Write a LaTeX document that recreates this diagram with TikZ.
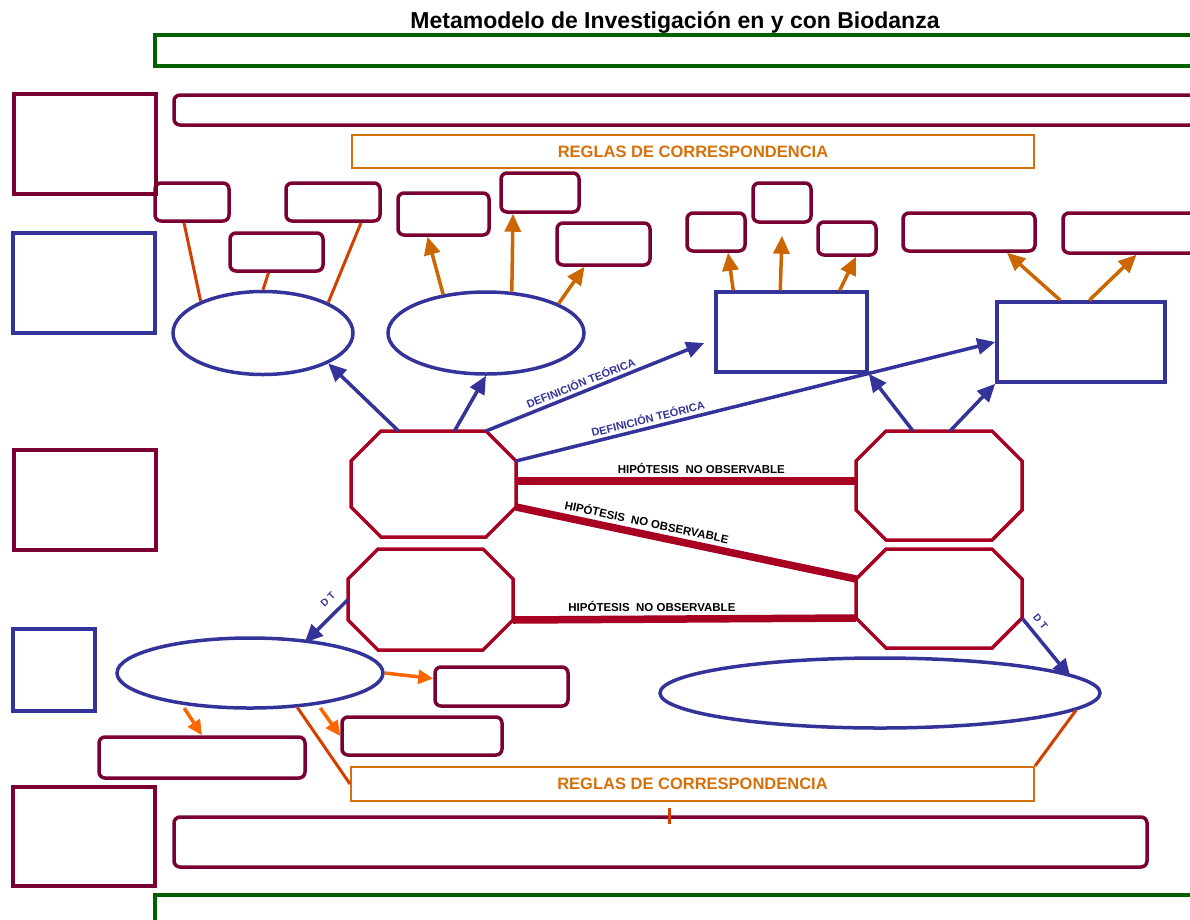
\documentclass[tikz,border=0pt]{standalone}
\usepackage{fontspec}
\setmainfont{Liberation Sans}
\usetikzlibrary{arrows.meta,shapes.geometric}

\definecolor{boxmaroon}{RGB}{122,0,51}
\definecolor{octred}{RGB}{168,0,34}
\definecolor{dtblue}{RGB}{51,51,153}
\definecolor{rulegold}{RGB}{214,112,10}
\definecolor{arrgold}{RGB}{204,102,0}
\definecolor{linkred}{RGB}{210,64,0}
\definecolor{brightorange}{RGB}{255,102,0}
\definecolor{framegreen}{RGB}{0,96,0}

% octagon: name, x, y, width, height
\newcommand{\octbox}[5]{%
  \node[octnode, minimum width=#4pt, minimum height=#5pt] (#1) at (#2,#3) {};
  \draw[octline] ([xshift=30pt]#1.north west) -- ([xshift=-30pt]#1.north east)
    -- ([yshift=-30pt]#1.north east) -- ([yshift=30pt]#1.south east)
    -- ([xshift=-30pt]#1.south east) -- ([xshift=30pt]#1.south west)
    -- ([yshift=30pt]#1.south west) -- ([yshift=-30pt]#1.north west) -- cycle;}

\begin{document}
\begin{tikzpicture}[x=1pt, y=-1pt, >={Triangle[length=18pt,width=16pt]},
  frame/.style={draw=boxmaroon, line width=3.5pt, inner sep=0pt},
  rbox/.style={draw=boxmaroon, line width=3.5pt, rounded corners=6pt, inner sep=0pt},
  bluebox/.style={draw=dtblue, line width=3.5pt, inner sep=0pt},
  blueell/.style={draw=dtblue, line width=3.5pt, ellipse, inner sep=0pt},
  greenbar/.style={draw=framegreen, line width=3.5pt, inner sep=0pt},
  rules/.style={draw=rulegold, line width=2pt, text=rulegold, inner sep=0pt,
    font=\bfseries\fontsize{16.5}{16.5}\selectfont},
  octnode/.style={draw=none, inner sep=0pt, outer sep=0pt},
  octline/.style={draw=octred, line width=3.5pt, line join=miter},
  bluearr/.style={->, draw=dtblue, fill=dtblue, line width=3.5pt},
  goldarr/.style={->, draw=arrgold, fill=arrgold, line width=3.5pt},
  brightarr/.style={-{Triangle[length=15pt,width=14pt]}, draw=brightorange, fill=brightorange, line width=3.5pt},
  linkline/.style={draw=linkred, line width=3pt},
  hypline/.style={draw=octred, line width=7.5pt},
  deflabel/.style={sloped, above=2pt, text=dtblue, inner sep=1pt,
    font=\bfseries\fontsize{11}{11}\selectfont},
  hyplabel/.style={above=3pt, inner sep=1pt, font=\bfseries\fontsize{11.5}{11.5}\selectfont},
  dtlabel/.style={sloped, text=dtblue, inner sep=1pt,
    font=\bfseries\fontsize{10}{10}\selectfont}]

  \useasboundingbox (0,0) rectangle (1190,919);

  % title and frames
  \node[font=\bfseries\fontsize{23}{23}\selectfont] (title) at (675,22) {Metamodelo de Investigación en y con Biodanza};
  \node[greenbar, minimum width=1055pt, minimum height=31pt] (topbar) at (682.5,50.5) {};
  \node[greenbar, minimum width=1055pt, minimum height=40pt] (botbar) at (682.5,915) {};
  \node[rbox, minimum width=1036pt, minimum height=30pt] (band1) at (692,110) {};
  \node[rbox, minimum width=973pt, minimum height=50pt] (band2) at (660.5,842) {};
  \node[rules, minimum width=682pt, minimum height=33pt] (reglas1) at (693,151.5) {REGLAS DE CORRESPONDENCIA};
  \node[rules, minimum width=683pt, minimum height=34pt] (reglas2) at (692.5,784) {REGLAS DE CORRESPONDENCIA};

  % left column
  \node[frame, minimum width=142pt, minimum height=100pt] (l1) at (85,144) {};
  \node[bluebox, minimum width=142pt, minimum height=100pt] (l2) at (84,283) {};
  \node[frame, minimum width=142pt, minimum height=100pt] (l3) at (85,500) {};
  \node[bluebox, minimum width=82pt, minimum height=82pt] (l4) at (54,670) {};
  \node[frame, minimum width=142pt, minimum height=99pt] (l5) at (84,836.5) {};

  % upper boxes
  \node[rbox, minimum width=74pt, minimum height=38pt] (a1) at (192,202) {};
  \node[rbox, minimum width=94pt, minimum height=38pt] (a2) at (333,202) {};
  \node[rbox, minimum width=93pt, minimum height=38pt] (a3) at (276.5,252) {};
  \node[rbox, minimum width=91pt, minimum height=42pt] (b1) at (443.5,214) {};
  \node[rbox, minimum width=78pt, minimum height=39pt] (b2) at (540,192.5) {};
  \node[rbox, minimum width=93pt, minimum height=42pt] (b3) at (603.5,244) {};
  \node[rbox, minimum width=58pt, minimum height=38pt] (c1) at (716,232) {};
  \node[rbox, minimum width=58pt, minimum height=39pt] (c2) at (782,202.5) {};
  \node[rbox, minimum width=58pt, minimum height=33pt] (c3) at (847,238.5) {};
  \node[rbox, minimum width=132pt, minimum height=38pt] (c4) at (969,232) {};
  \node[rbox, minimum width=147pt, minimum height=40pt] (c5) at (1136.5,233) {};

  % concepts
  \node[blueell, minimum width=180pt, minimum height=83pt] (e1) at (263,333) {};
  \node[blueell, minimum width=196pt, minimum height=82pt] (e2) at (486,333) {};
  \node[bluebox, minimum width=151pt, minimum height=80pt] (r1) at (791.5,332) {};
  \node[bluebox, minimum width=168pt, minimum height=80pt] (r2) at (1081,342) {};

  % constructs
  \octbox{o1}{433.5}{484}{165}{106}
  \octbox{o2}{939}{485.5}{166}{109}
  \octbox{o3}{430.5}{599.5}{165}{101}
  \octbox{o4}{939}{598.5}{166}{99}

  % lower concepts and boxes
  \node[blueell, minimum width=266pt, minimum height=70pt] (e3) at (250,673) {};
  \node[blueell, minimum width=440pt, minimum height=70pt] (e4) at (880,693) {};
  \node[rbox, minimum width=206pt, minimum height=41pt] (d1) at (202,757.5) {};
  \node[rbox, minimum width=160pt, minimum height=38pt] (d2) at (422,736) {};
  \node[rbox, minimum width=133pt, minimum height=39pt] (d3) at (501.5,686.5) {};

  % links to upper boxes
  \draw[linkline] ([xshift=-8pt]a1.south) -- (e1.153);
  \draw[linkline] ([xshift=-8pt]a3.south) -- (e1.north);
  \draw[linkline] ([xshift=28pt]a2.south) -- (e1.25);
  \draw[goldarr] (e2.138) -- ([xshift=-16pt]b1.south);
  \draw[goldarr] (e2.58) -- ([xshift=-27pt]b2.south);
  \draw[goldarr] (e2.22) -- ([xshift=-19pt]b3.south);
  \draw[goldarr] ([xshift=19pt]r1.north west) -- ([xshift=12pt]c1.south);
  \draw[goldarr] ([xshift=66pt]r1.north west) -- ([yshift=-12pt]c2.south);
  \draw[goldarr] ([xshift=-29pt]r1.north east) -- ([xshift=9pt]c3.south);
  \draw[goldarr] ([xshift=65pt]r2.north west) -- ([xshift=38pt]c4.south);
  \draw[goldarr] ([xshift=94pt]r2.north west) -- (c5.south);

  % theoretical definitions
  \draw[bluearr] ([xshift=-35pt]o1.north) -- (e1.-25);
  \draw[bluearr] ([xshift=21pt]o1.north) -- (e2.south);
  \draw[bluearr] ([xshift=-30pt]o1.north east) -- ([xshift=-10pt,yshift=-11pt]r1.west)
    node[deflabel, pos=0.45] {DEFINICIÓN TEÓRICA};
  \draw[bluearr] ([yshift=-30pt]o1.north east) -- (r2.west)
    node[deflabel, pos=0.28] {DEFINICIÓN TEÓRICA};
  \draw[bluearr] ([xshift=-26pt]o2.north) -- (r1.south east);
  \draw[bluearr] ([xshift=11pt]o2.north) -- (r2.south west);
  \draw[bluearr, shorten >=-4pt] (o3.west) -- (e3.30)
    node[dtlabel, above=8pt, pos=0.25] {D T};
  \draw[bluearr, shorten >=-5pt] ([yshift=30pt]o4.south east) -- (e4.6)
    node[dtlabel, above=6pt, pos=0.2] {D T};

  % hypotheses
  \draw[hypline] ([yshift=3pt]o1.east) -- ([yshift=3pt]o1.east -| o2.west)
    node[hyplabel, pos=0.545] {HIPÓTESIS\ \ NO OBSERVABLE};
  \draw[hypline] ([yshift=30pt]o1.south east) -- ([yshift=-30pt]o4.north west)
    node[hyplabel, sloped, pos=0.377] {HIPÓTESIS\ \ NO OBSERVABLE};
  \draw[hypline] ([yshift=30pt]o3.south east) -- ([yshift=30pt]o4.south west)
    node[hyplabel, pos=0.405] {HIPÓTESIS\ \ NO OBSERVABLE};

  % lower links
  \draw[brightarr] (e3.east) -- ([yshift=8pt]d3.west);
  \draw[brightarr, shorten <=4pt] (e3.-155) -- (d1.north);
  \draw[brightarr, shorten <=4pt] (e3.-25) -- (d2.west);
  \draw[linkline] (e3.-36) -- (reglas2.west);
  \draw[linkline] (e4.-5) -- (reglas2.north east);
  \draw[linkline] ([xshift=-23.5pt,yshift=-6pt]reglas2.south) -- ([xshift=8.5pt,yshift=-9pt]band2.north);
\end{tikzpicture}
\end{document}
